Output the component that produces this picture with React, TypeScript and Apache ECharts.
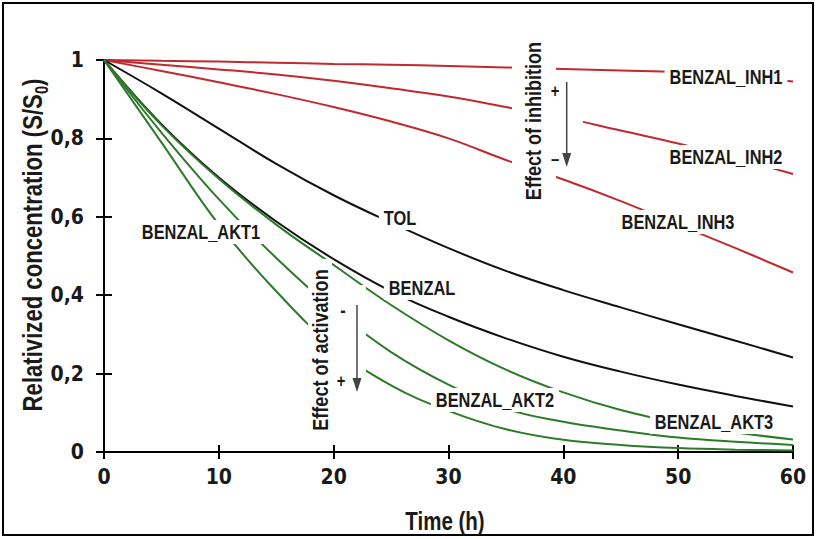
import React, { useEffect, useRef } from "react";
import * as echarts from "echarts";

const timeH = [0, 5, 10, 15, 20, 25, 30, 35, 40, 45, 50, 55, 60];
const benzalInh1 = [1, 0.998, 0.996, 0.993, 0.99, 0.988, 0.985, 0.981, 0.977, 0.973, 0.969, 0.959, 0.945];
const benzalInh2 = [1, 0.988, 0.976, 0.963, 0.947, 0.928, 0.907, 0.88, 0.853, 0.82, 0.787, 0.75, 0.709];
const benzalInh3 = [1, 0.972, 0.943, 0.913, 0.88, 0.843, 0.8, 0.745, 0.695, 0.64, 0.58, 0.52, 0.458];
const tol = [1, 0.915, 0.825, 0.735, 0.655, 0.585, 0.52, 0.462, 0.413, 0.369, 0.326, 0.284, 0.241];
const benzal = [1, 0.836, 0.7, 0.588, 0.492, 0.41, 0.345, 0.29, 0.243, 0.205, 0.172, 0.143, 0.116];
const benzalAkt3 = [1, 0.834, 0.697, 0.58, 0.477, 0.375, 0.285, 0.21, 0.152, 0.107, 0.074, 0.05, 0.032];
const benzalAkt2 = [1, 0.815, 0.645, 0.495, 0.364, 0.255, 0.172, 0.11, 0.077, 0.055, 0.037, 0.026, 0.018];
const benzalAkt1 = [1, 0.79, 0.58, 0.41, 0.268, 0.17, 0.105, 0.058, 0.031, 0.018, 0.01, 0.006, 0.004];

const xTickLabels = ["0", "10", "20", "30", "40", "50", "60"];
const yTickLabels = ["0", "0,2", "0,4", "0,6", "0,8", "1"];

const curveLabels = ["BENZAL_INH1", "BENZAL_INH2", "BENZAL_INH3", "TOL", "BENZAL", "BENZAL_AKT1", "BENZAL_AKT2", "BENZAL_AKT3"];

const RED = "#c02a2e";
const BLACK = "#111111";
const GREEN = "#2d7a2a";
const NARROW = "'Liberation Sans Narrow', 'Arial Narrow', 'DejaVu Sans Condensed', 'Liberation Sans', sans-serif";
const TEXT = "#1a1a1a";

export default function App() {
  const ref = useRef<HTMLDivElement>(null);
  useEffect(() => {
    document.body.style.margin = "0";
    const chart = echarts.init(ref.current!, null, { renderer: "svg" });
    const mk = (name: string, arr: number[], color: string) => ({
      name,
      type: "line",
      data: timeH.map((t, i) => [t, arr[i]]),
      symbol: "none",
      smooth: 0.4,
      lineStyle: { color, width: 2 },
      itemStyle: { color },
      z: 2,
    });

    const txt = (text: string, x: number, y: number, size: number, extra: any = {}) => ({
      type: "text",
      x,
      y,
      z: 100,
      scaleX: 0.82,
      ...extra,
      style: {
        text,
        fill: TEXT,
        fontFamily: "'Liberation Sans', Arial, sans-serif",
        fontWeight: "bold",
        fontSize: size,
        align: "center",
        verticalAlign: "middle",
        textAlign: "center",
        textVerticalAlign: "middle",
        ...(extra.style || {}),
      },
    });
    const lbl = (text: string, x: number, y: number) =>
      txt(text, x, y, 20, { style: { backgroundColor: "#ffffff", padding: [2, 6] } });
    const white = (x: number, y: number, w: number, h: number) => ({
      type: "rect",
      z: 90,
      shape: { x, y, width: w, height: h },
      style: { fill: "#ffffff" },
    });
    const ARROW = "#444444";

    const option: any = {
      animation: false,
      backgroundColor: "#ffffff",
      grid: { left: 104, right: 24, top: 60, bottom: 87, containLabel: false },
      xAxis: [
        {
          type: "value",
          min: 0,
          max: 60,
          interval: 10,
          axisLine: { show: true, lineStyle: { color: "#000", width: 2 } },
          axisTick: { show: true, inside: false, length: 7, lineStyle: { color: "#000", width: 2 } },
          splitLine: { show: false },
          axisLabel: {
            margin: 14,
            color: TEXT,
            fontFamily: NARROW,
            fontWeight: "bold",
            fontSize: 21,
            formatter: (v: number) => xTickLabels[Math.round(v / 10)] ?? "",
          },
        },
        {
          type: "value",
          position: "bottom",
          min: 0,
          max: 60,
          interval: 10,
          axisLine: { show: false },
          axisTick: { show: true, inside: true, length: 7, lineStyle: { color: "#000", width: 2 } },
          axisLabel: { show: false },
          splitLine: { show: false },
        },
      ],
      yAxis: [
        {
          type: "value",
          min: 0,
          max: 1,
          interval: 0.2,
          axisLine: { show: true, lineStyle: { color: "#000", width: 2 } },
          axisTick: { show: true, inside: false, length: 8, lineStyle: { color: "#000", width: 2 } },
          splitLine: { show: false },
          axisLabel: {
            margin: 20,
            color: TEXT,
            fontFamily: NARROW,
            fontWeight: "bold",
            fontSize: 21,
            formatter: (v: number) => yTickLabels[Math.round(v / 0.2)] ?? "",
          },
        },
        {
          type: "value",
          position: "left",
          min: 0,
          max: 1,
          interval: 0.2,
          axisLine: { show: false },
          axisTick: { show: true, inside: true, length: 8, lineStyle: { color: "#000", width: 2 } },
          axisLabel: { show: false },
          splitLine: { show: false },
        },
      ],
      series: [
        mk(curveLabels[0], benzalInh1, RED),
        mk(curveLabels[1], benzalInh2, RED),
        mk(curveLabels[2], benzalInh3, RED),
        mk(curveLabels[3], tol, BLACK),
        mk(curveLabels[4], benzal, BLACK),
        mk(curveLabels[5], benzalAkt1, GREEN),
        mk(curveLabels[6], benzalAkt2, GREEN),
        mk(curveLabels[7], benzalAkt3, GREEN),
      ],
      graphic: [
        {
          type: "rect",
          z: 100,
          shape: { x: 3, y: 3, width: 810, height: 532 },
          style: { fill: "none", stroke: "#000", lineWidth: 2 },
        },
        // gaps behind vertical annotations
        white(512, 36, 44, 170),
        white(556, 105, 27, 25),
        white(308, 259, 24, 181),
        white(332, 285, 34, 155),
        // curve labels
        lbl(curveLabels[0], 726, 77),
        lbl(curveLabels[1], 726, 157),
        lbl(curveLabels[2], 678, 222),
        lbl(curveLabels[3], 400, 218),
        lbl(curveLabels[4], 422, 288),
        lbl(curveLabels[5], 201, 232),
        lbl(curveLabels[6], 495, 400),
        lbl(curveLabels[7], 714, 422),
        // annotations
        txt("Effect of inhibition", 533, 121, 22, { rotation: Math.PI / 2 }),
        txt("Effect of activation", 320, 350, 22, { rotation: Math.PI / 2 }),
        txt("+", 555, 90, 18),
        txt("\u2013", 555, 158, 18),
        txt("-", 343, 310, 20),
        txt("+", 341, 380, 18),
        { type: "line", z: 100, shape: { x1: 566.7, y1: 82, x2: 566.7, y2: 158 }, style: { stroke: ARROW, lineWidth: 1.5 } },
        { type: "polygon", z: 100, shape: { points: [[562.2, 153], [571.2, 153], [566.7, 167]] }, style: { fill: ARROW } },
        { type: "line", z: 100, shape: { x1: 357, y1: 305, x2: 357, y2: 383 }, style: { stroke: ARROW, lineWidth: 1.5 } },
        { type: "polygon", z: 100, shape: { points: [[352.5, 378], [361.5, 378], [357, 392]] }, style: { fill: ARROW } },
        // axis names
        txt("Time (h)", 445, 521, 25),
        {
          type: "text",
          x: 30,
          y: 245,
          z: 100,
          rotation: Math.PI / 2,
          scaleX: 0.82,
          style: {
            text: "{a|Relativized concentration (S/S}{b|0}{a|)}",
            align: "center",
            verticalAlign: "middle",
            textAlign: "center",
            textVerticalAlign: "middle",
            fill: TEXT,
            rich: {
              a: { fontFamily: "'Liberation Sans', Arial, sans-serif", fontWeight: "bold", fontSize: 27, fill: TEXT, lineHeight: 32, verticalAlign: "bottom" },
              b: { fontFamily: "'Liberation Sans', Arial, sans-serif", fontWeight: "bold", fontSize: 18, fill: TEXT, lineHeight: 32, verticalAlign: "bottom", padding: [0, 0, -4, 0] },
            },
          },
        },
      ],
    };
    chart.setOption(option);
    return () => chart.dispose();
  }, []);
  return <div ref={ref} style={{ width: 817, height: 539 }} />;
}
